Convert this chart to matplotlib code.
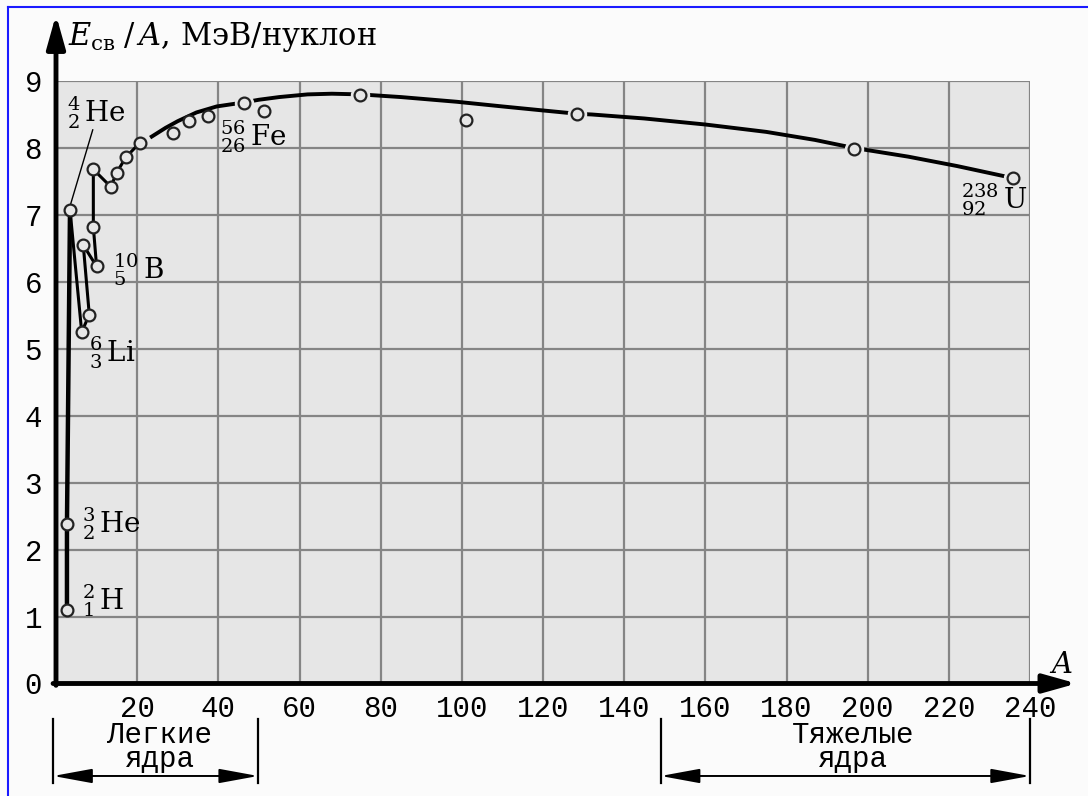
import matplotlib
matplotlib.use("Agg")
import matplotlib.pyplot as plt
from matplotlib.lines import Line2D

plt.rcParams['mathtext.fontset'] = 'custom'
plt.rcParams['mathtext.rm'] = 'DejaVu Serif'
plt.rcParams['mathtext.it'] = 'DejaVu Serif:italic'

# light nuclei, joined by a zigzag line
light_A = [2.7, 2.7, 3.45, 6.33, 8.2, 6.72, 10.0, 9.2, 9.2, 13.5, 14.95, 17.2, 20.7]
light_E = [1.10, 2.38, 7.08, 5.25, 5.51, 6.55, 6.23, 6.82, 7.68, 7.42, 7.63, 7.86, 8.08]

# smooth curve for the heavier nuclei
curve_A = [23.6, 27, 30, 34.6, 39.6, 46.3, 50, 55, 62, 68, 75, 85, 98.7, 110, 120,
           128.5, 132, 145, 160, 175, 187, 196.6, 210, 222, 235.8]
curve_E = [8.17, 8.30, 8.40, 8.53, 8.62, 8.68, 8.72, 8.76, 8.80, 8.81, 8.80, 8.76,
           8.69, 8.62, 8.56, 8.51, 8.50, 8.44, 8.35, 8.24, 8.12, 8.00, 7.87, 7.73, 7.55]

# circles lying on the curve
on_A = [46.3, 75, 128.5, 196.6, 235.8]
on_E = [8.67, 8.79, 8.51, 7.99, 7.55]

# circles off the curve
off_A = [28.9, 32.8, 37.5, 51.2, 101]
off_E = [8.22, 8.40, 8.47, 8.55, 8.42]

# element labels: text, A, E (baseline)
labels = [(r'${}^{4}_{2}\,\mathrm{He}$', 2.6, 8.39),
          (r'${}^{3}_{2}\,\mathrm{He}$', 6.3, 2.25),
          (r'${}^{2}_{1}\,\mathrm{H}$', 6.3, 1.10),
          (r'${}^{6}_{3}\,\mathrm{Li}$', 8.2, 4.81),
          (r'${}^{10}_{5}\,\mathrm{B}$', 14.0, 6.05),
          (r'${}^{56}_{26}\,\mathrm{Fe}$', 40.4, 8.03),
          (r'${}^{238}_{92}\,\mathrm{U}$', 222.9, 7.10)]

xticks = list(range(20, 241, 20))
yticks = list(range(0, 10))

bg = '#e6e6e6'
W, H = 1088, 796
fig = plt.figure(figsize=(W / 100, H / 100), dpi=100, facecolor='#fbfbfb')
x0, x1, y0, y1 = 56, 1030, 683.5, 81
ax = fig.add_axes([x0 / W, 1 - y0 / H, (x1 - x0) / W, (y0 - y1) / H])
ax.set_facecolor(bg)
ax.set_xlim(0, 240)
ax.set_ylim(0, 9)
for s in ax.spines.values():
    s.set_visible(False)

ax.set_xticks(xticks)
ax.set_yticks(yticks)
ax.tick_params(length=0, labelsize=21)
ax.tick_params(axis='x', pad=8)
ax.tick_params(axis='y', pad=10)
for lab in ax.get_xticklabels() + ax.get_yticklabels():
    lab.set_fontfamily('Liberation Mono')
ax.grid(True, color='#858585', lw=1.6)
ax.set_axisbelow(True)

# axes with arrows
ax.annotate('', xy=(0, 1.11), xytext=(0, -0.003), xycoords='axes fraction',
            arrowprops=dict(arrowstyle='-|>,head_length=1.0,head_width=0.28',
                            lw=3.5, color='k', mutation_scale=20, shrinkA=0, shrinkB=0),
            annotation_clip=False)
ax.annotate('', xy=(1.048, 0), xytext=(-0.003, 0), xycoords='axes fraction',
            arrowprops=dict(arrowstyle='-|>,head_length=1.0,head_width=0.28',
                            lw=3.5, color='k', mutation_scale=20, shrinkA=0, shrinkB=0),
            annotation_clip=False)

# lines
ax.plot(light_A[:3], light_E[:3], color='k', lw=3.2, zorder=3, solid_capstyle='butt')
ax.plot(light_A[2:], light_E[2:], color='k', lw=2.2, zorder=3)
ax.plot(curve_A, curve_E, color='k', lw=2.8, zorder=3)
ax.plot(on_A, on_E, 'o', ms=13, mfc=bg, mec=bg, zorder=4)

all_A = light_A + on_A + off_A
all_E = light_E + on_E + off_E
ax.plot(all_A, all_E, 'o', ms=8.5, mfc=bg, mec='#222222', mew=1.6, zorder=5)

# He-4 leader
ax.plot([9.05, 3.6], [8.27, 7.16], color='k', lw=1, zorder=4)

for txt, a, e in labels:
    ax.text(a, e, txt, fontsize=20, va='baseline', ha='left', zorder=6)

# axis titles
ax.text(3.0, 9.54, r'$E_{\mathrm{св}}\;/\,A$, МэВ/нуклон', fontsize=22,
        family='DejaVu Serif', va='baseline', ha='left', clip_on=False)
ax.text(244.8, 0.16, r'$A$', fontsize=21, va='baseline', ha='left', clip_on=False)

# light / heavy brackets below the axis
tr = ax.get_xaxis_transform()
for xa, xb, words, xc in [(-0.7, 49.8, 'Легкие\nядра', 25.6),
                          (149, 240, 'Тяжелые\nядра', 196.5)]:
    for xv in (xa, xb):
        ax.plot([xv, xv], [-0.059, -0.165], transform=tr, color='k', lw=1.6,
                clip_on=False)
    ax.annotate('', xy=(xb, -0.1535), xytext=(xa, -0.1535), xycoords=tr,
                arrowprops=dict(arrowstyle='<|-|>,head_length=1.2,head_width=0.22',
                                lw=1.4, color='k', mutation_scale=20,
                                shrinkA=0, shrinkB=0),
                annotation_clip=False)
    ax.text(xc, -0.106, words, transform=tr, ha='center', va='center',
            fontsize=21, family='Liberation Mono', linespacing=0.82)

# blue frame on the left and top edges
fig.add_artist(Line2D([8 / W, 8 / W], [0, 1 - 7 / H], transform=fig.transFigure,
                      color='#1a1aff', lw=1.5))
fig.add_artist(Line2D([8 / W, 1], [1 - 7 / H, 1 - 7 / H], transform=fig.transFigure,
                      color='#1a1aff', lw=1.5))

fig.savefig('out.png', dpi=100, facecolor=fig.get_facecolor())
